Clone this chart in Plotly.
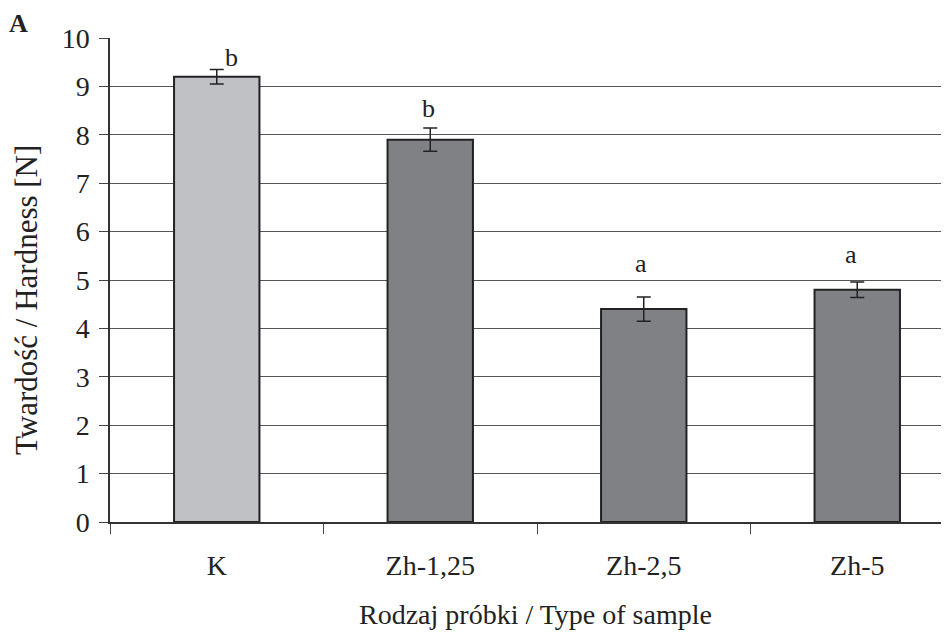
import plotly.graph_objects as go

categories = ["K", "Zh-1,25", "Zh-2,5", "Zh-5"]
hardness = [9.2, 7.9, 4.4, 4.8]
errors = [0.15, 0.24, 0.25, 0.16]
letters = ["b", "b", "a", "a"]
letter_y = [9.59, 8.55, 5.35, 5.52]
letter_xshift = [15, -2, -3, -6]
bar_colors = ["#c0c1c5", "#808185", "#808185", "#808185"]

FONT = "Liberation Serif, Times New Roman, serif"
TXT = "#222222"

# page is rendered with an 8px body margin; layout numbers compensate for it
L, T, PH, W, H = 102, 30, 484, 949, 637
PW = W - L

fig = go.Figure()
fig.add_trace(go.Bar(
    x=categories, y=hardness, width=0.4,
    marker=dict(color=bar_colors, line=dict(color="#222222", width=2)),
    error_y=dict(type="data", array=errors, visible=True, color="#222222",
                 thickness=1.5, width=7),
    showlegend=False,
))

for c, t, ly, xs in zip(categories, letters, letter_y, letter_xshift):
    fig.add_annotation(x=c, y=ly, text=t, showarrow=False, xshift=xs,
                       font=dict(family=FONT, size=26, color=TXT))

def px(xf):
    return (xf - L) / PW

def py(yf):
    return (T + PH - yf) / PH

fig.add_annotation(xref="paper", yref="paper", x=px(10), y=py(16), text="<b>A</b>",
                   showarrow=False, xanchor="center", yanchor="middle",
                   font=dict(family=FONT, size=26, color=TXT))
fig.add_annotation(xref="paper", yref="paper", x=px(527), y=py(606),
                   text="Rodzaj próbki / Type of sample", showarrow=False,
                   xanchor="center", yanchor="middle",
                   font=dict(family=FONT, size=28, color=TXT))
fig.add_annotation(xref="paper", yref="paper", x=px(18), y=py(292),
                   text="Twardość / Hardness [N]", showarrow=False, textangle=-90,
                   xanchor="center", yanchor="middle",
                   font=dict(family=FONT, size=31, color=TXT))

fig.update_layout(
    width=W, height=H,
    margin=dict(l=L, r=0, t=T, b=H - T - PH),
    plot_bgcolor="white", paper_bgcolor="white",
    font=dict(family=FONT, size=28, color=TXT),
    xaxis=dict(
        type="category", range=[-0.5, -0.5 + PW / 213.5], tickson="boundaries",
        ticks="outside", ticklen=10, tickcolor="#444444", tickwidth=1,
        showline=True, linecolor="#333333", linewidth=1.5,
        showgrid=False, tickfont=dict(family=FONT, size=28, color=TXT),
        ticklabelstandoff=18,
        fixedrange=True,
    ),
    yaxis=dict(
        range=[0, 10], dtick=1, ticks="outside", ticklen=9,
        tickcolor="#444444", tickwidth=1,
        showline=True, linecolor="#333333", linewidth=1.5,
        showgrid=True, gridcolor="#555555", gridwidth=1,
        zeroline=False, ticklabelstandoff=4,
        tickfont=dict(family=FONT, size=28, color=TXT),
    ),
)

fig.write_html("out.html")
